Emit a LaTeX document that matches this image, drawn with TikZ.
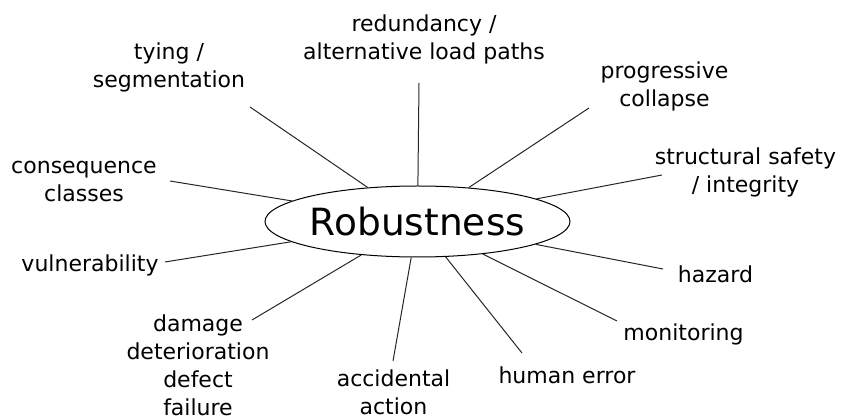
\documentclass[tikz,border=0pt]{standalone}
\usepackage{fontspec}
\setmainfont{DejaVu Sans}
\usetikzlibrary{shapes.geometric}
\tikzset{
    topic/.style={align=center, anchor=base, inner sep=0pt, font=\fontsize{22}{28}\selectfont},
    spoke/.style={line width=1pt, black!85}
}

\begin{document}
\begin{tikzpicture}[x=1pt,y=-1pt]
        \useasboundingbox (0,0) rectangle (841,419);
        \node [draw, ellipse, line width=1pt, minimum width=305pt, minimum height=71pt, inner sep=0pt,
            font=\fontsize{37.5}{44}\selectfont] (robust) at (417.5,221.5) {Robustness};

        \node [topic] (redund) at (424,60) {redundancy /\\alternative load paths};
        \node [topic] (tying) at (169,88) {tying /\\segmentation};
        \node [topic] (conseq) at (84,202) {consequence\\classes};
        \node [topic] (vulner) at (90,272) {vulnerability};
        \node [topic] (damage) at (198,416) {damage\\deterioration\\defect\\failure};
        \node [topic] (accid) at (393.5,415) {accidental\\action};
        \node [topic] (human) at (567,384) {human error};
        \node [topic] (monit) at (683.5,341) {monitoring};
        \node [topic] (hazard) at (715.5,283) {hazard};
        \node [topic] (struct) at (745.5,193) {structural safety\\/ integrity};
        \node [topic] (progr) at (664.5,106.5) {progressive\\collapse};

        \coordinate (e-redund) at (419,83);
        \coordinate (e-tying) at (250,107);
        \coordinate (e-conseq) at (170,181);
        \coordinate (e-vulner) at (165,262);
        \coordinate (e-damage) at (252,320);
        \coordinate (e-accid) at (393,361);
        \coordinate (e-human) at (522,353);
        \coordinate (e-monit) at (617,321);
        \coordinate (e-hazard) at (663,269);
        \coordinate (e-struct) at (662,175);
        \coordinate (e-progr) at (589,108);

        \draw [spoke] (robust) -- (e-redund);
        \draw [spoke] (robust) -- (e-tying);
        \draw [spoke] (robust) -- (e-conseq);
        \draw [spoke] (robust) -- (e-vulner);
        \draw [spoke] (robust) -- (e-damage);
        \draw [spoke] (robust) -- (e-accid);
        \draw [spoke] (robust) -- (e-human);
        \draw [spoke] (robust) -- (e-monit);
        \draw [spoke] (robust) -- (e-hazard);
        \draw [spoke] (robust) -- (e-struct);
        \draw [spoke] (robust) -- (e-progr);
    \end{tikzpicture}
\end{document}
